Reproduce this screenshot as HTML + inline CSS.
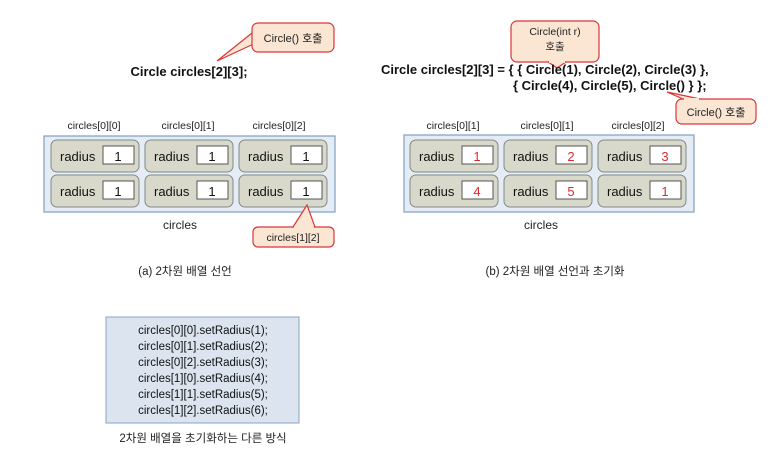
<!DOCTYPE html>
<html><head><meta charset="utf-8"><style>
html,body{margin:0;padding:0;background:#fff;}
svg{display:block;}
text{font-family:"Liberation Sans","Noto Sans CJK KR",sans-serif;}
</style></head><body>
<svg width="773" height="468" viewBox="0 0 773 468" xmlns="http://www.w3.org/2000/svg">
<defs>
<g id="cell">
<rect x="0" y="0" width="88" height="32" rx="6" fill="#d9d9cb" stroke="#7f8a8a" stroke-width="1"/>
<text x="9" y="21" font-size="13" fill="#111">radius</text>
<rect x="52" y="6" width="31" height="18" fill="#fff" stroke="#555" stroke-width="1"/>
</g>
</defs>

<!-- LEFT -->
<path d="M252,33 L217,61 L262,40 Z" fill="#fbe6d3" stroke="#d9353a" stroke-width="1.2"/>
<rect x="252" y="23" width="82" height="29" rx="6" fill="#fbe6d3" stroke="#d9353a" stroke-width="1.2"/>
<path d="M262,33 L262,40" stroke="#fbe6d3" stroke-width="2"/>
<text x="293" y="42" font-size="11" text-anchor="middle" fill="#222">Circle() 호출</text>
<text x="189" y="76" font-size="13" font-weight="bold" text-anchor="middle" fill="#111">Circle circles[2][3];</text>

<text x="94" y="129" font-size="10.5" text-anchor="middle" fill="#222">circles[0][0]</text>
<text x="188" y="129" font-size="10.5" text-anchor="middle" fill="#222">circles[0][1]</text>
<text x="279" y="129" font-size="10.5" text-anchor="middle" fill="#222">circles[0][2]</text>
<rect x="44" y="136" width="291" height="76" fill="#e6ecf4" stroke="#7f9fc6" stroke-width="1.2"/>
<use href="#cell" x="51" y="140"/><use href="#cell" x="145" y="140"/><use href="#cell" x="239" y="140"/>
<use href="#cell" x="51" y="175"/><use href="#cell" x="145" y="175"/><use href="#cell" x="239" y="175"/>
<g font-size="13" text-anchor="middle" fill="#111">
<text x="118" y="161">1</text><text x="212" y="161">1</text><text x="306" y="161">1</text>
<text x="118" y="196">1</text><text x="212" y="196">1</text><text x="306" y="196">1</text>
</g>
<text x="180" y="229" font-size="12" text-anchor="middle" fill="#222">circles</text>
<path d="M293,227 L307,205 L315,227 Z" fill="#fbe6d3" stroke="#d9353a" stroke-width="1.2"/>
<rect x="253" y="227" width="81" height="20" rx="5" fill="#fbe6d3" stroke="#d9353a" stroke-width="1.2"/>
<path d="M294,227 L314,227" stroke="#fbe6d3" stroke-width="2"/>
<text x="293" y="241" font-size="10.5" text-anchor="middle" fill="#222">circles[1][2]</text>

<!-- RIGHT -->
<path d="M548,62 L557,68 L566,62 Z" fill="#fbe6d3" stroke="#d9353a" stroke-width="1.2"/>
<rect x="511" y="21" width="88" height="41" rx="6" fill="#fbe6d3" stroke="#d9353a" stroke-width="1.2"/>
<path d="M549,62 L565,62" stroke="#fbe6d3" stroke-width="2"/>
<text x="555" y="35" font-size="10.5" text-anchor="middle" fill="#222">Circle(int r)</text>
<text x="555" y="50" font-size="10.5" text-anchor="middle" fill="#222">호출</text>
<text x="381" y="74" font-size="13" font-weight="bold" fill="#111">Circle circles[2][3] = { { Circle(1), Circle(2), Circle(3) },</text>
<text x="513" y="90" font-size="13" font-weight="bold" fill="#111">{ Circle(4), Circle(5), Circle() } };</text>
<path d="M683,99 L667,92 L700,99 Z" fill="#fbe6d3" stroke="#d9353a" stroke-width="1.2"/>
<rect x="676" y="99" width="80" height="25" rx="6" fill="#fbe6d3" stroke="#d9353a" stroke-width="1.2"/>
<path d="M684,99 L699,99" stroke="#fbe6d3" stroke-width="2"/>
<text x="716" y="116" font-size="11" text-anchor="middle" fill="#222">Circle() 호출</text>

<text x="453" y="129" font-size="10.5" text-anchor="middle" fill="#222">circles[0][1]</text>
<text x="547" y="129" font-size="10.5" text-anchor="middle" fill="#222">circles[0][1]</text>
<text x="638" y="129" font-size="10.5" text-anchor="middle" fill="#222">circles[0][2]</text>
<rect x="404" y="135" width="290" height="77" fill="#e6ecf4" stroke="#7f9fc6" stroke-width="1.2"/>
<use href="#cell" x="410" y="140"/><use href="#cell" x="504" y="140"/><use href="#cell" x="598" y="140"/>
<use href="#cell" x="410" y="175"/><use href="#cell" x="504" y="175"/><use href="#cell" x="598" y="175"/>
<g font-size="13" text-anchor="middle" fill="#e0282e">
<text x="477" y="161">1</text><text x="571" y="161">2</text><text x="665" y="161">3</text>
<text x="477" y="196">4</text><text x="571" y="196">5</text><text x="665" y="196">1</text>
</g>
<text x="541" y="229" font-size="12" text-anchor="middle" fill="#222">circles</text>

<text x="185" y="275" font-size="11.5" text-anchor="middle" fill="#222">(a) 2차원 배열 선언</text>
<text x="555" y="275" font-size="11.5" text-anchor="middle" fill="#222">(b) 2차원 배열 선언과 초기화</text>

<rect x="106" y="317" width="193" height="106" fill="#dce5ef" stroke="#8aa3c2" stroke-width="1"/>
<g font-size="11.5" text-anchor="middle" fill="#111">
<text x="203" y="334">circles[0][0].setRadius(1);</text>
<text x="203" y="350">circles[0][1].setRadius(2);</text>
<text x="203" y="366">circles[0][2].setRadius(3);</text>
<text x="203" y="382">circles[1][0].setRadius(4);</text>
<text x="203" y="398">circles[1][1].setRadius(5);</text>
<text x="203" y="414">circles[1][2].setRadius(6);</text>
</g>
<text x="203" y="442" font-size="11.5" text-anchor="middle" fill="#222">2차원 배열을 초기화하는 다른 방식</text>
</svg>
</body></html>
